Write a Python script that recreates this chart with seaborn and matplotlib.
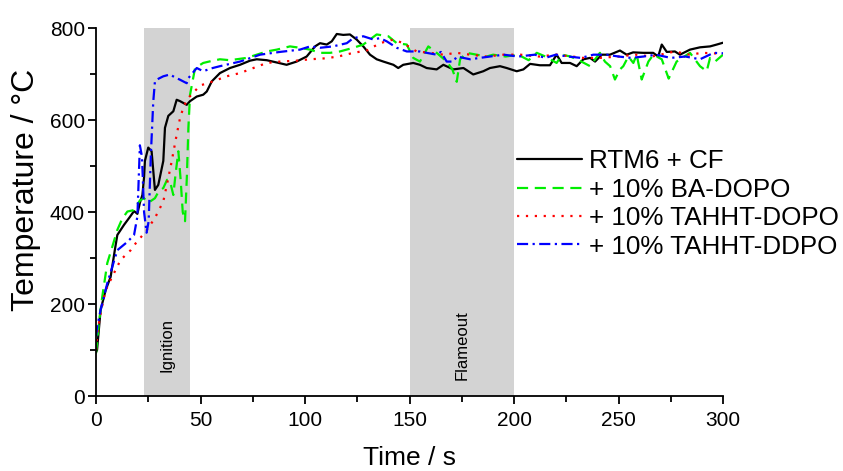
import numpy as np
import pandas as pd
import matplotlib
matplotlib.use("Agg")
import matplotlib.pyplot as plt
import seaborn as sns

# ---------------- data ----------------
t_rtm6 = [0, 0.5, 2.2, 4.6, 7, 9, 10.2, 13.4, 16, 18.2, 19.8, 21, 22.2, 23, 23.4, 25, 26.6,
          28.2, 29.8, 32.2, 33, 34.6, 37, 38.6, 40.2, 43.4, 45, 48.2, 51.3, 53, 55.4, 59.3,
          64.1, 68.9, 73.7, 76.9, 81.7, 86.5, 91.2, 96, 100.8, 104.8, 107.2, 110.4, 112.8,
          115.2, 118.3, 121.5, 124.7, 127.9, 131.1, 134.3, 137.5, 142.3, 144.6, 147, 151.8,
          155, 158.2, 163, 166.2, 171, 175.8, 180.5, 185.3, 188.5, 193.3, 196.5, 201.3,
          204.5, 207.7, 212.4, 217.2, 220.4, 222.8, 226.8, 230, 233.2, 236.4, 238.8, 242,
          245.9, 250.7, 253.9, 257, 261.8, 266.6, 269, 270.7, 273.1, 277, 279.4, 284.2, 289,
          293.8, 297, 300]
T_rtm6 = [95, 100, 187, 230, 259, 317, 350, 372, 388, 402, 396, 420, 437, 476, 511, 540, 532,
          448, 459, 511, 583, 609, 619, 644, 641, 633, 641, 651, 655, 662, 684, 702,
          713, 720, 729, 732, 730, 725, 720, 727, 738, 760, 767, 764, 771,
          787, 785, 786, 775, 760, 742, 732, 727, 720, 713, 720, 724,
          720, 713, 710, 720, 710, 713, 699, 706, 713, 717, 713, 706,
          710, 722, 719, 719, 742, 724, 724, 717, 732, 735, 727, 742,
          742, 751, 742, 747, 746, 746, 738, 764, 748, 749, 742, 753, 758,
          760, 764, 768]

t_ba = [0, 1.4, 3, 5.4, 7.5, 10.2, 12.5, 15, 18, 21, 23, 25, 28.2, 30, 32.2, 34, 35.4, 37,
        38, 39.4, 40.5, 41.5, 42.6, 43.5, 44.2, 45, 47.4, 51.3, 55, 59.3, 64, 72.1, 81.7,
        86.5, 92.8, 97.6, 102.4, 107.2, 112, 116.7, 123.1, 127.9, 134.3, 139.9, 143.9,
        148.7, 151.8, 155, 159, 163, 167.8, 170.5, 172.6, 174.2, 177.3, 182.1, 186.9, 190,
        196, 202, 207, 210.9, 215, 220.4, 223, 227, 231, 236.4, 241.1, 243.5, 246, 248.3,
        250.7, 252.3, 254.7, 257.1, 258.7, 261.1, 264.3, 266.7, 270.7, 274, 277.8, 284.2,
        289, 292.2, 293.8, 296.2, 300]
T_ba = [93, 159, 216, 289, 320, 361, 385, 401, 404, 425, 430, 420, 430, 445, 452, 470, 467, 437,
        480, 532, 470, 400, 380, 480, 583, 655, 713, 724, 728, 732, 730, 735, 749,
        753, 760, 757, 753, 746, 746, 749, 757, 764, 786, 782, 767,
        764, 735, 727, 760, 746, 727, 710, 683, 732, 746, 742, 738, 742,
        738, 742, 730, 746, 738, 724, 742, 738, 730, 717, 746, 727, 717, 688,
        710, 717, 738, 724, 742, 688, 727, 742, 732, 690, 727, 746,
        717, 706, 735, 727, 742]

t_tdopo = [0, 0.6, 2.2, 4.6, 8.6, 11.8, 16.6, 19, 22, 24.2, 28.2, 32.2, 34.6, 36.2, 38.6,
           40.2, 42, 44.2, 49.8, 56.1, 62.5, 68.9, 75.3, 81.7, 88, 96, 102.4, 109.6, 115.9,
           123.1, 129.5, 135.9, 142.3, 147, 153.4, 159.8, 166.2, 172.6, 179, 186.9, 195,
           203, 212, 220, 228, 233, 241, 250, 258, 266, 277, 284, 290, 300]
T_tdopo = [100, 136, 180, 230, 267, 296, 317, 332, 348, 360, 387, 423, 474, 510, 568,
           604, 630, 648, 675, 684, 695, 702, 713, 724, 727, 729, 732, 734, 738,
           746, 751, 767, 775, 767, 749, 746, 742, 746, 742, 738, 742,
           742, 738, 742, 738, 735, 735, 738, 742, 738, 749, 742, 746, 744]

t_tddpo = [0, 0.6, 2.2, 5.4, 10.2, 15, 18.2, 19.8, 21, 22, 23, 24.2, 25.2, 26.2, 27.4, 28.2,
           30, 32.2, 35.4, 38, 40, 43.4, 44.2, 48.2, 51.3, 55, 59.3, 68.9, 78.5, 88, 97.6,
           102.4, 107.2, 113.4, 120, 123.1, 127.9, 132.7, 135.9, 139.1, 143.9, 148.7, 155,
           158.2, 163, 165, 167.8, 171, 172.6, 179, 183.7, 188.5, 195, 202, 210, 215, 220,
           226, 232, 238, 244.3, 250, 256, 262, 268, 275, 282, 289, 295.5, 300]
T_tddpo = [130, 151, 187, 245, 317, 335, 350, 390, 545, 520, 400, 355, 380, 520, 640, 684,
           690, 695, 699, 692, 688, 680, 691, 713, 706, 712, 717, 727, 742, 748, 753,
           760, 757, 760, 767, 778, 782, 775, 778, 771, 757, 749, 749,
           746, 742, 748, 727, 727, 738, 732, 735, 738, 742, 738, 742, 735, 742,
           738, 735, 742, 742, 738, 735, 738, 742, 735, 738, 732, 746, 745]

labels = ["RTM6 + CF", "+ 10% BA-DOPO", "+ 10% TAHHT-DOPO", "+ 10% TAHHT-DDPO"]
x_ticks = [0, 50, 100, 150, 200, 250, 300]
y_ticks = [0, 200, 400, 600, 800]

# ---------------- figure ----------------
sns.set_style("ticks")
plt.rcParams["font.family"] = ["Liberation Sans", "DejaVu Sans"]
plt.rcParams["text.color"] = "black"
plt.rcParams["axes.labelcolor"] = "black"

fig = plt.figure(figsize=(8.43, 4.71), dpi=100)
ax = fig.add_axes([96 / 843, 1 - 396 / 471, 627 / 843, 368 / 471])

ax.axvspan(23, 45, color="#d3d3d3", lw=0, zorder=0)
ax.axvspan(150, 200, color="#d3d3d3", lw=0, zorder=0)
ax.text(34, 110, "Ignition", rotation=90, ha="center", va="center", fontsize=12)
ax.text(175, 110, "Flameout", rotation=90, ha="center", va="center", fontsize=12)

series = [
    (t_rtm6, T_rtm6, "black", "-"),
    (t_ba, T_ba, "#00ee00", (0, (5, 3))),
    (t_tdopo, T_tdopo, "#ff0000", (0, (1, 3))),
    (t_tddpo, T_tddpo, "#0000ff", (0, (5, 2, 1, 2))),
]
for (tt, TT, col, ls), lab in zip(series, labels):
    df = pd.DataFrame({"Time": tt, "Temp": TT})
    sns.lineplot(data=df, x="Time", y="Temp", ax=ax, color=col, linestyle=ls,
                 lw=1.6, label=lab, estimator=None, sort=False)

ax.set_xlim(0, 300)
ax.set_ylim(0, 800)
ax.set_xticks(x_ticks)
ax.set_yticks(y_ticks)
ax.set_xticks([25, 75, 125, 175, 225, 275], minor=True)
ax.set_yticks([100, 300, 500, 700], minor=True)
ax.tick_params(axis="both", which="major", direction="out", length=6, width=1.3,
               labelsize=15, color="black", labelcolor="black")
ax.tick_params(axis="x", which="major", pad=5)
ax.tick_params(axis="y", which="major", pad=2)
ax.tick_params(axis="both", which="minor", direction="out", length=4, width=1.3,
               color="black")
for s in ["top", "right"]:
    ax.spines[s].set_visible(False)
for s in ["left", "bottom"]:
    ax.spines[s].set_linewidth(1.3)
    ax.spines[s].set_color("black")

ax.set_xlabel("Time / s", fontsize=19, labelpad=11)
ax.set_ylabel("Temperature / \u00b0C", fontsize=23)
ax.yaxis.set_label_coords(-0.087, 0.56)

leg = ax.legend(loc="center left", bbox_to_anchor=(0.671, 0.522), frameon=False,
                fontsize=18.7, handlelength=2.5, handletextpad=0.3, labelspacing=0.17,
                borderpad=0, borderaxespad=0)

fig.savefig("out.png", dpi=100)
